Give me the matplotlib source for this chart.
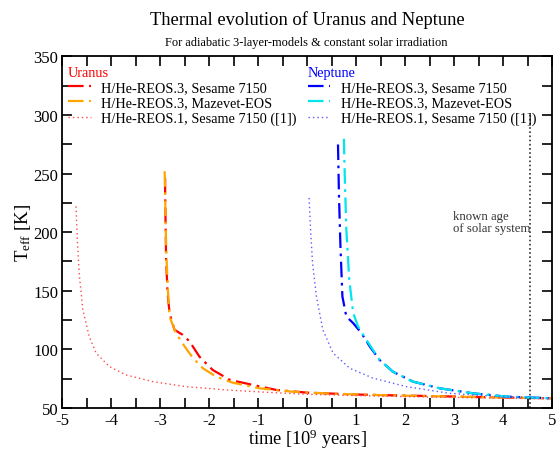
import matplotlib
matplotlib.use("Agg")
import matplotlib.pyplot as plt
from matplotlib.ticker import MultipleLocator

plt.rcParams['font.family'] = ['Liberation Serif', 'DejaVu Serif']
plt.rcParams['mathtext.fontset'] = 'custom'
plt.rcParams['mathtext.rm'] = 'Liberation Serif'
plt.rcParams['mathtext.it'] = 'Liberation Serif:italic'
plt.rcParams['axes.unicode_minus'] = False

# Uranus, H/He-REOS.3 + Sesame 7150
u3s_t = [-2.9, -2.9, -2.89, -2.88, -2.85, -2.81, -2.71, -2.54, -2.40, -2.2, -1.93, -1.58, -1.11, -0.63, 0.0, 1.0, 2.0, 3.0, 4.0, 5.0]
u3s_T = [246, 233.5, 205, 176.5, 148, 131, 116.7, 112.4, 106.7, 93.8, 82.5, 74, 69.7, 65.4, 63.1, 61.5, 60.6, 59.8, 59.0, 58.3]
# Uranus, H/He-REOS.3 + Mazevet-EOS
u3m_t = [-2.91, -2.9, -2.89, -2.87, -2.84, -2.81, -2.68, -2.5, -2.33, -2.13, -1.86, -1.52, -0.97, -0.30, 0.5, 1.5, 2.5, 3.5, 4.5, 5.0]
u3m_T = [252, 233, 205, 176, 148, 128, 113.8, 102.4, 92.5, 83.9, 76.8, 71.6, 66.8, 63.9, 62.2, 61.0, 60.1, 59.3, 58.6, 58.3]
# Uranus, H/He-REOS.1 + Sesame 7150 ([1])
u1_t = [-4.72, -4.69, -4.65, -4.58, -4.45, -4.31, -4.04, -3.70, -3.15, -2.47, -1.65, -0.83, 0.0, 1.0, 2.0, 3.0, 4.0, 5.0]
u1_T = [222, 190.8, 162.3, 133.8, 111, 96.8, 85.4, 78.2, 72.5, 68.2, 65.4, 63.4, 61.7, 60.6, 59.7, 59.0, 58.4, 57.8]
# Neptune, H/He-REOS.3 + Sesame 7150
n3s_t = [0.63, 0.65, 0.68, 0.72, 0.80, 0.94, 1.11, 1.28, 1.48, 1.75, 2.16, 2.71, 3.39, 4.07, 4.96]
n3s_T = [274.8, 230.6, 187.9, 145.1, 128, 122.4, 113.8, 102.4, 91, 81, 72.5, 66.8, 62.5, 59.7, 58.3]
# Neptune, H/He-REOS.3 + Mazevet-EOS
n3m_t = [0.75, 0.77, 0.80, 0.86, 0.94, 1.04, 1.21, 1.48, 1.75, 2.16, 2.71, 3.39, 4.07, 4.96]
n3m_T = [279.6, 244.9, 202.1, 159.4, 131, 119.5, 108.1, 91, 81, 72.5, 66.8, 62.5, 59.7, 58.3]
# Neptune, H/He-REOS.1 + Sesame 7150 ([1])
n1_t = [0.04, 0.07, 0.11, 0.19, 0.32, 0.53, 0.87, 1.35, 2.03, 2.91, 3.94, 4.96]
n1_T = [229.2, 202, 173.7, 145, 116.7, 96.8, 83.9, 75.4, 68.2, 62.5, 59.7, 58.3]

solar_age = 4.56
solar_line_T = [50, 300]

labels = ['H/He-REOS.3, Sesame 7150', 'H/He-REOS.3, Mazevet-EOS', 'H/He-REOS.1, Sesame 7150 ([1])']

fig = plt.figure(figsize=(5.58, 4.52), dpi=100)
ax = fig.add_axes([62.3 / 558, 1 - 409 / 452, (552 - 62.3) / 558, (409 - 57.3) / 452])

dashdot = (0, (7, 2.5, 1.2, 2.5))
l1, = ax.plot(u3s_t, u3s_T, color='#ff0000', lw=1.6, linestyle=dashdot)
l2, = ax.plot(u3m_t, u3m_T, color='#ffa500', lw=1.6, linestyle=dashdot)
l3, = ax.plot(u1_t, u1_T, color='#ff4a4a', lw=1.0, linestyle=(0, (1, 2.2)))
l4, = ax.plot(n3s_t, n3s_T, color='#0000ff', lw=1.6, linestyle=dashdot)
l5, = ax.plot(n3m_t, n3m_T, color='#00e5ee', lw=1.6, linestyle=dashdot)
l6, = ax.plot(n1_t, n1_T, color='#5a5aff', lw=1.0, linestyle=(0, (1, 2.2)))
ax.plot([solar_age, solar_age], solar_line_T, color='#333333', lw=1.2, linestyle=(0, (1, 1.5)))

ax.text(2.98, 208.5, 'known age\nof solar system', fontsize=9.2, color='#333333',
        va='center', ha='left', linespacing=1.05)

ax.set_xlim(-5, 5)
ax.set_ylim(50, 350)
ax.xaxis.set_major_locator(MultipleLocator(1))
ax.xaxis.set_minor_locator(MultipleLocator(0.5))
ax.yaxis.set_major_locator(MultipleLocator(50))
ax.yaxis.set_minor_locator(MultipleLocator(25))
ax.tick_params(which='both', direction='in', top=True, right=True, labelsize=12, width=1.2, length=7)
ax.tick_params(axis='x', pad=3)
ax.tick_params(axis='y', pad=3)
for sp in ax.spines.values():
    sp.set_linewidth(1.3)

ax.set_xlabel('time [10$^{9}$ years]', fontsize=13.2, labelpad=-1)
ax.set_ylabel('T$_{\\rm eff}$ [K]', fontsize=13.5, labelpad=0)

fig.text(307.5 / 558, 1 - 20 / 452, 'Thermal evolution of Uranus and Neptune', fontsize=13.3, ha='center', va='center')
fig.text(306.5 / 558, 1 - 43 / 452, 'For adiabatic 3-layer-models & constant solar irradiation', fontsize=8.9, ha='center', va='center')

common = dict(loc='upper left', frameon=False, fontsize=10.3, handlelength=1.6, handletextpad=0.75,
              labelspacing=0.15, borderaxespad=0.0, borderpad=0.1, alignment='left')
leg1 = ax.legend([l1, l2, l3], labels, bbox_to_anchor=(0.008, 0.976), title='Uranus', **common)
leg1.get_title().set_color('#ff0000')
leg1.get_title().set_fontsize(10.3)
ax.add_artist(leg1)
leg2 = ax.legend([l4, l5, l6], labels, bbox_to_anchor=(0.498, 0.976), title='Neptune', **common)
leg2.get_title().set_color('#0000ff')
leg2.get_title().set_fontsize(10.3)

fig.savefig('out.png', dpi=100)
